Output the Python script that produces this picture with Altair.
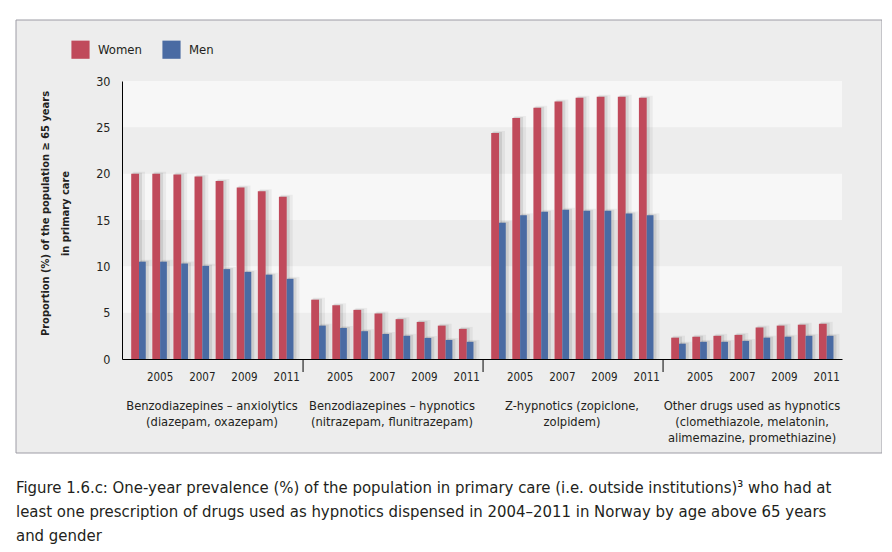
import altair as alt
import pandas as pd

# ---------------- data ----------------
years = [2004, 2005, 2006, 2007, 2008, 2009, 2010, 2011]
label_years = [2005, 2007, 2009, 2011]
groups = [
    "Benzodiazepines – anxiolytics\n(diazepam, oxazepam)",
    "Benzodiazepines – hypnotics\n(nitrazepam, flunitrazepam)",
    "Z-hypnotics (zopiclone,\nzolpidem)",
    "Other drugs used as hypnotics\n(clomethiazole, melatonin,\nalimemazine, promethiazine)",
]
women = [
    [20.0, 20.0, 19.9, 19.7, 19.2, 18.5, 18.1, 17.5],
    [6.4, 5.8, 5.3, 4.9, 4.3, 4.0, 3.6, 3.25],
    [24.4, 26.0, 27.1, 27.8, 28.2, 28.3, 28.3, 28.2],
    [2.3, 2.4, 2.5, 2.6, 3.4, 3.6, 3.7, 3.8],
]
men = [
    [10.5, 10.5, 10.3, 10.05, 9.7, 9.4, 9.1, 8.65],
    [3.6, 3.35, 3.0, 2.7, 2.5, 2.27, 2.05, 1.85],
    [14.7, 15.5, 15.9, 16.1, 16.0, 16.0, 15.7, 15.5],
    [1.65, 1.85, 1.85, 1.95, 2.3, 2.4, 2.5, 2.5],
]
genders = ["Women", "Men"]
gender_colors = ["#c04a5b", "#4a6ba3"]
y_ticks = [0, 5, 10, 15, 20, 25, 30]
band_lo = [5, 15, 25]
band_hi = [10, 20, 30]
y_title = ["Proportion (%) of the population ≥ 65 years", "in primary care"]
caption = ("Figure 1.6.c: One-year prevalence (%) of the population in primary care "
           "(i.e. outside institutions)³ who had at\n"
           "least one prescription of drugs used as hypnotics dispensed in 2004–2011 "
           "in Norway by age above 65 years\n"
           "and gender")

# ---------------- layout ----------------
FONT = "DejaVu Sans Condensed, Liberation Sans Narrow, sans-serif"
TXT = "#231f20"
W, H = 720, 278
STEP = 8.53     # group step, in year-slot units
FIRST = 0.806   # first pair split position
XMAX = 34.12

rows = []
for g, name in enumerate(groups):
    for i, yr in enumerate(years):
        pos = g * STEP + FIRST + i
        rows.append(dict(group=name, year=str(yr), gender="Women",
                         value=women[g][i], x0=pos - 0.37, x1=pos, pos=pos))
        rows.append(dict(group=name, year=str(yr), gender="Men",
                         value=men[g][i], x0=pos, x1=pos + 0.32, pos=pos))
bars = pd.DataFrame(rows)
year_lab = bars[(bars.gender == "Women") & (bars.year.isin([str(y) for y in label_years]))]
grp_df = pd.DataFrame({"group": groups,
                       "center": [g * STEP + STEP / 2 for g in range(len(groups))]})
sep_df = pd.DataFrame({"b": [g * STEP + STEP + 0.05 for g in range(len(groups) - 1)]})
band_df = pd.DataFrame({"lo": band_lo, "hi": band_hi})
one = pd.DataFrame({"k": [0]})

xscale = alt.Scale(domain=[0, XMAX], nice=False, zero=False)
yscale = alt.Scale(domain=[0, 30], nice=False)
X_AX = alt.Axis(labels=False, ticks=False, grid=False, title=None,
                domainColor="black", domainWidth=1, zindex=2)
Y_AX = alt.Axis(values=y_ticks, ticks=False, grid=False, labelPadding=12,
                labelFontSize=12.5, labelColor=TXT, labelFont=FONT,
                domainColor="black", domainWidth=1, zindex=2,
                title=y_title, titleX=-77, titleY=132, titleAngle=270,
                titleAlign="center", titleBaseline="middle",
                titleFont=FONT, titleFontSize=11, titleFontWeight="bold",
                titleColor=TXT, titleLineHeight=20)

panel = alt.Chart(one).mark_rect(fill="#ededed", stroke="#9d9ca5", strokeWidth=1).encode(
    x=alt.value(-106), x2=alt.value(760), y=alt.value(-61), y2=alt.value(372))

bands = alt.Chart(band_df).mark_rect(fill="#f7f7f7").encode(
    x=alt.value(0), x2=alt.value(W),
    y=alt.Y("lo:Q", scale=yscale, axis=Y_AX), y2="hi:Q")

shadow1 = alt.Chart(bars).mark_bar(color="black", opacity=0.09, xOffset=1, x2Offset=3,
                                   yOffset=-1).encode(
    x=alt.X("x0:Q", scale=xscale, axis=X_AX), x2="x1:Q",
    y=alt.Y("value:Q", scale=yscale, axis=Y_AX), y2=alt.datum(0))
shadow2 = alt.Chart(bars).mark_bar(color="black", opacity=0.05, xOffset=2, x2Offset=6,
                                   yOffset=-2).encode(
    x=alt.X("x0:Q", scale=xscale, axis=X_AX), x2="x1:Q",
    y=alt.Y("value:Q", scale=yscale, axis=Y_AX), y2=alt.datum(0))

barl = alt.Chart(bars).mark_bar().encode(
    x=alt.X("x0:Q", scale=xscale, axis=X_AX), x2="x1:Q",
    y=alt.Y("value:Q", scale=yscale, axis=Y_AX), y2=alt.datum(0),
    color=alt.Color("gender:N",
                    scale=alt.Scale(domain=genders, range=gender_colors),
                    legend=alt.Legend(orient="none", legendX=-51, legendY=-41,
                                      direction="horizontal", title=None,
                                      symbolType="square", symbolSize=330,
                                      symbolStrokeWidth=0, labelOffset=8,
                                      columnPadding=20, padding=0,
                                      labelFont=FONT, labelFontSize=13,
                                      labelColor=TXT)))

seps = alt.Chart(sep_df).mark_rule(color="black", strokeWidth=1).encode(
    x=alt.X("b:Q", scale=xscale, axis=X_AX), y=alt.value(H), y2=alt.value(H + 13))

yr_text = alt.Chart(year_lab).mark_text(font=FONT, fontSize=11.5, color=TXT,
                                        baseline="alphabetic").encode(
    x=alt.X("pos:Q", scale=xscale, axis=X_AX), y=alt.value(H + 22), text="year:N")

grp_text = alt.Chart(grp_df).mark_text(font=FONT, fontSize=12.8, color=TXT,
                                       lineBreak="\n", lineHeight=16,
                                       baseline="alphabetic").encode(
    x=alt.X("center:Q", scale=xscale, axis=X_AX), y=alt.value(H + 51), text="group:N")

cap = alt.Chart(one).mark_text(font=FONT, fontSize=16.6, color=TXT, align="left",
                               baseline="alphabetic", lineBreak="\n",
                               lineHeight=24).encode(
    x=alt.value(-106), y=alt.value(412), text=alt.value(caption))

chart = alt.layer(panel, bands, shadow2, shadow1, barl, seps, yr_text, grp_text, cap).properties(
    width=W, height=H,
    padding={"left": 114, "top": 73, "right": 40, "bottom": 185},
    autosize=alt.AutoSizeParams(type="none"),
    background="white",
).configure_view(stroke=None, fill=None)

chart.save("out.html", embed_options={"renderer": "svg", "actions": False})
